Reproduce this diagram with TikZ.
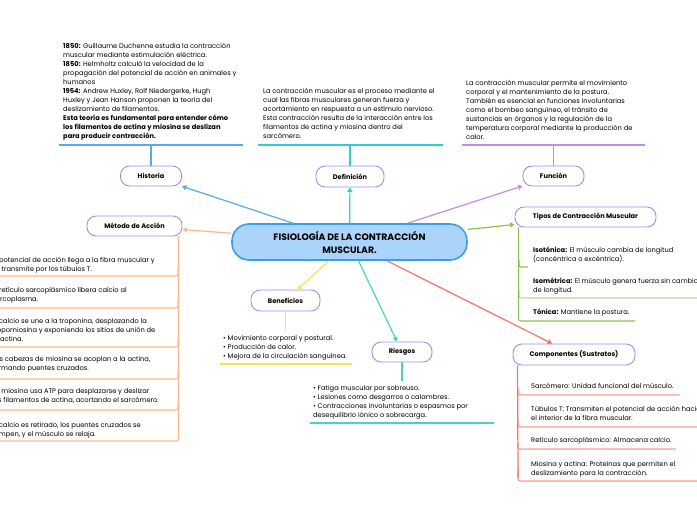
\documentclass[tikz,border=0pt]{standalone}
\usepackage{fontspec}
\setmainfont{Poppins}
\usepackage{xcolor}
\usetikzlibrary{arrows.meta,positioning}
\definecolor{corefill}{HTML}{AAD4FA}
\definecolor{coreline}{HTML}{3AA0E6}
\definecolor{topicline}{HTML}{9A90F0}
\definecolor{histblue}{HTML}{5AAAE8}
\definecolor{defteal}{HTML}{2FCFCF}
\definecolor{funcviolet}{HTML}{C98BE8}
\definecolor{metorange}{HTML}{FFB88A}
\definecolor{tipgreen}{HTML}{8CC152}
\definecolor{tiplight}{HTML}{B9DE93}
\definecolor{compred}{HTML}{FF6F61}
\definecolor{complight}{HTML}{FF9C94}
\definecolor{benyellow}{HTML}{F5E35A}
\definecolor{riesgreen}{HTML}{48D9A4}
\tikzset{%
  tipM/.tip={Triangle[angle=60:5pt]},
  topic/.style={draw=topicline, line width=0.9pt, fill=white, rounded corners=9pt,
    minimum height=20pt, inner sep=0pt, font=\bfseries\fontsize{6.6}{7}\selectfont},
  note/.style={anchor=north west, align=left, inner sep=0pt, font=\fontsize{6.7}{9}\selectfont},
  link/.style={line width=1.2pt, -tipM},
  uline/.style={line width=1.2pt, rounded corners=2pt},
}

\begin{document}
\begin{tikzpicture}[x=1pt,y=-1pt]
\useasboundingbox (0,0) rectangle (697,520);

% centre and topics
\node[draw=coreline, line width=1.6pt, fill=corefill, rounded corners=17pt, minimum width=235pt,
  minimum height=36pt, align=center, font=\bfseries\fontsize{9.3}{13}\selectfont] (core) at (349.5,242)
  {FISIOLOGÍA DE LA CONTRACCIÓN\\MUSCULAR.};
\node[topic, minimum width=61pt] (hist) at (151,176) {Historia};
\node[topic, minimum width=68pt, minimum height=21pt] (def) at (350,176.5) {Definición};
\node[topic, minimum width=61pt] (func) at (553.5,176) {Función};
\node[topic, minimum width=95pt] (met) at (134.5,226) {Método de Acción};
\node[topic, minimum width=141pt] (tipos) at (585.5,217) {Tipos de Contracción Muscular};
\node[topic, minimum width=122pt, minimum height=21pt] (comp) at (574,354.5) {Componentes (Sustratos)};
\node[topic, minimum width=69pt, minimum height=21pt] (ben) at (285.5,300.5) {Beneficios};
\node[topic, minimum width=60pt] (ries) at (402,352) {Riesgos};

\draw[link, histblue] (core) -- (hist);
\draw[link, defteal] (core) -- (def);
\draw[link, funcviolet] (core) -- (func);
\draw[link, metorange] (core) -- (met);
\draw[link, tipgreen] (core) -- (tipos);
\draw[link, compred] (core) -- (comp);
\draw[link, benyellow] (core) -- (ben);
\draw[link, riesgreen] (core) -- (ries);

% Historia
\node[note] (histtxt) at (63,43) {\textbf{1850:} Guillaume Duchenne estudia la contracción\\
muscular mediante estimulación eléctrica.\\
\textbf{1850:} Helmholtz calculó la velocidad de la\\
propagación del potencial de acción en animales y\\
humanos\\
\textbf{1954:} Andrew Huxley, Rolf Niedergerke, Hugh\\
Huxley y Jean Hanson proponen la teoría del\\
deslizamiento de filamentos.\\
\textbf{Esta teoría es fundamental para entender cómo}\\
\textbf{los filamentos de actina y miosina se deslizan}\\
\textbf{para producir contracción.}};
\coordinate (histL) at (59,145);
\coordinate (histR) at (243,145);
\draw[uline, histblue] (histL) -- (histR);
\draw[uline, histblue] (hist.north) -- (hist.north |- histL);

% Definicion
\node[note] (deftxt) at (263,88) {La contracción muscular es el proceso mediante el\\
cual las fibras musculares generan fuerza y\\
acortamiento en respuesta a un estímulo nervioso.\\
Esta contracción resulta de la interacción entre los\\
filamentos de actina y miosina dentro del\\
sarcómero.};
\coordinate (defL) at (258,145);
\coordinate (defR) at (443,145);
\draw[uline, defteal] (defL) -- (defR);
\draw[uline, defteal] (def.north) -- (def.north |- defL);

% Funcion
\node[note] (functxt) at (466,80) {La contracción muscular permite el movimiento\\
corporal y el mantenimiento de la postura.\\
También es esencial en funciones involuntarias\\
como el bombeo sanguíneo, el tránsito de\\
sustancias en órganos y la regulación de la\\
temperatura corporal mediante la producción de\\
calor.};
\coordinate (funcL) at (462,145);
\coordinate (funcR) at (645,145);
\draw[uline, funcviolet] (funcL) -- (funcR);
\draw[uline, funcviolet] (func.north) -- (func.north |- funcL);

% Metodo de accion
\coordinate (metbot) at (0,441);
\draw[uline, metorange] ([xshift=-4pt]met.south east) |- (metbot);
\draw[uline, metorange] (178,268) |- (0,276);
\draw[uline, metorange] (178,300) |- (0,308);
\draw[uline, metorange] (178,339) |- (0,347);
\draw[uline, metorange] (178,371) |- (0,379);
\draw[uline, metorange] (178,402) |- (0,410);
\node[note] (met1) at (-8,257) {El potencial de acción llega a la fibra muscular y\\se transmite por los túbulos T.};
\node[note] (met2) at (-8,287) {El retículo sarcoplásmico libera calcio al\\sarcoplasma.};
\node[note] (met3) at (-8,318) {El calcio se une a la troponina, desplazando la\\tropomiosina y exponiendo los sitios de unión de\\la actina.};
\node[note] (met4) at (-8,356) {Las cabezas de miosina se acoplan a la actina,\\formando puentes cruzados.};
\node[note] (met5) at (-8,388) {La miosina usa ATP para desplazarse y deslizar\\los filamentos de actina, acortando el sarcómero.};
\node[note] (met6) at (-8,422) {El calcio es retirado, los puentes cruzados se\\rompen, y el músculo se relaja.};

% Tipos de contraccion
\draw[uline, tiplight] (519,290) |- (697,298);
\draw[uline, tipgreen] (519,260) |- (528,267);
\draw[uline, tipgreen] ([xshift=4pt]tipos.south west) |- (635,321);
\node[note] (tip1) at (533,247) {\textbf{Isotónica:} El músculo cambia de longitud\\(concéntrica o excéntrica).};
\node[note] (tip2) at (533,278) {\textbf{Isométrica:} El músculo genera fuerza sin cambio\\de longitud.};
\node[note] (tip3) at (533,309) {\textbf{Tónica:} Mantiene la postura.};

% Componentes
\draw[uline, complight] (518,388) |- (680,395);
\draw[uline, complight] (518,420) |- (697,427);
\draw[uline, complight] (518,442) |- (676,449);
\draw[uline, complight] (518,470) |- (697,481);
\draw[uline, compred] ([xshift=5pt]comp.south west) -- (518,478);
\node[note] (comp1) at (531,383) {Sarcómero: Unidad funcional del músculo.};
\node[note] (comp2) at (531,406) {Túbulos T: Transmiten el potencial de acción hacia\\el interior de la fibra muscular.};
\node[note] (comp3) at (531,437) {Retículo sarcoplásmico: Almacena calcio.};
\node[note] (comp4) at (531,461) {Miosina y actina: Proteínas que permiten el\\deslizamiento para la contracción.};

% Beneficios
\coordinate (benT) at (0,331);
\draw[uline, benyellow] (ben.south) -- (ben.south |- benT);
\node[note] (bentxt) at (223,335) {• Movimiento corporal y postural.\\• Producción de calor.\\• Mejora de la circulación sanguínea.};
\draw[uline, benyellow] (220,364) -- (352,364);

% Riesgos
\coordinate (riesT) at (0,381);
\draw[uline, riesgreen] (ries.south) -- (ries.south |- riesT);
\node[note] (riestxt) at (313,385) {• Fatiga muscular por sobreuso.\\• Lesiones como desgarros o calambres.\\• Contracciones involuntarias o espasmos por\\desequilibrio iónico o sobrecarga.};
\draw[uline, riesgreen] (310,423) -- (494,423);
\end{tikzpicture}
\end{document}
